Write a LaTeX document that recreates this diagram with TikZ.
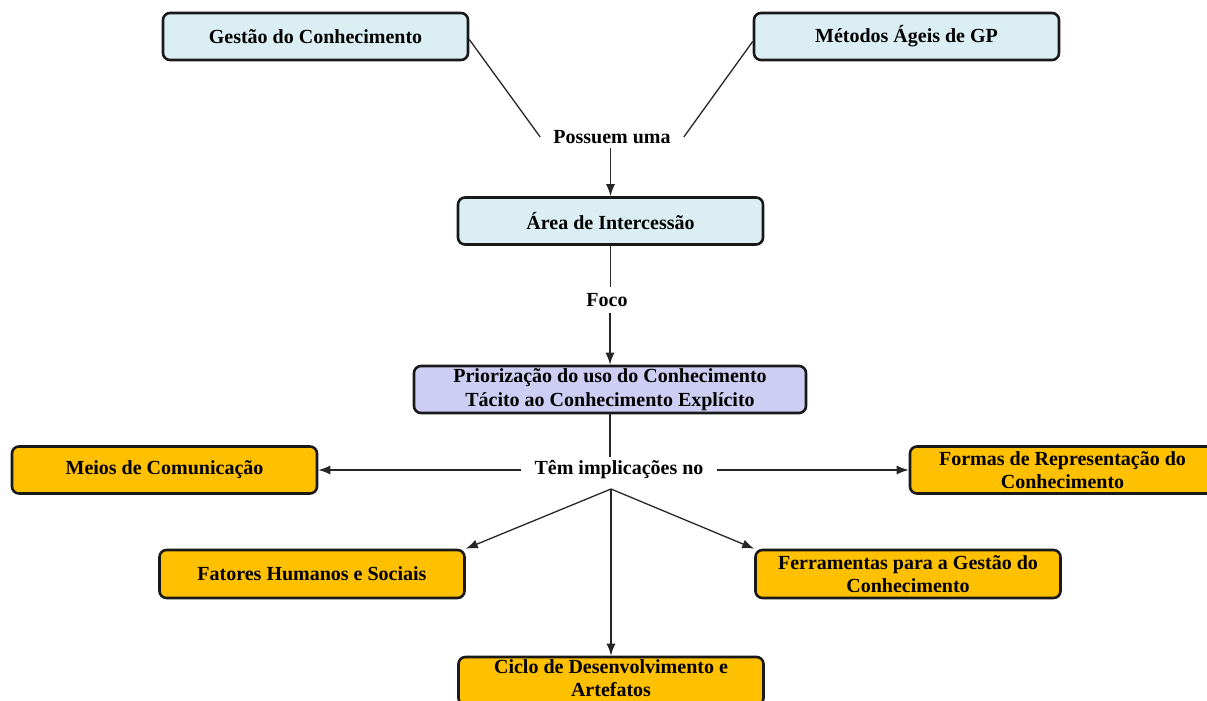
\documentclass[tikz,border=0pt]{standalone}
\usepackage{fontspec}
\setmainfont{Liberation Serif}
\usetikzlibrary{arrows.meta}
\definecolor{paleblue}{RGB}{218,238,243}
\definecolor{lavender}{RGB}{206,206,245}
\definecolor{amber}{RGB}{255,192,0}
\tikzset{
  box/.style={draw=black!90, line width=2.6pt, rounded corners=7pt,
    minimum width=305pt, minimum height=47pt, inner sep=0pt, align=center,
    font=\bfseries\fontsize{20}{23.5}\selectfont},
  bluebox/.style={box, fill=paleblue},
  violetbox/.style={box, fill=lavender},
  orangebox/.style={box, fill=amber},
  linklabel/.style={inner xsep=13pt, inner ysep=4pt,
    font=\bfseries\fontsize{20}{23.5}\selectfont},
  link/.style={line width=1.3pt, draw=black!85},
  arrowlink/.style={link, -{Latex[length=12pt,width=9pt]}}
}
\begin{document}
\begin{tikzpicture}[x=1pt,y=-1pt]
\useasboundingbox (0,0) rectangle (1207,701);
\clip (0,0) rectangle (1207,701);

% top concepts
\node[bluebox] (gestao)  at (315.5,36.5) {Gestão do Conhecimento};
\node[bluebox] (metodos) at (906.5,36.5) {Métodos Ágeis de GP};
\node[linklabel] (possuem) at (612,137) {Possuem uma};

% intersection and focus
\node[bluebox] (area) at (610.5,221) {Área de Intercessão};
\node[linklabel, inner ysep=6pt] (foco) at (607,300) {Foco};
\node[violetbox, minimum width=392pt] (prior) at (610,389.5)
  {Priorização do uso do Conhecimento\\Tácito ao Conhecimento Explícito};

% implications
\node[linklabel] (tem) at (619,470) {Têm implicações no};
\coordinate (hub) at (611,489);
\node[orangebox] (meios)  at (164.5,470) {Meios de Comunicação};
\node[orangebox] (formas) at (1062.5,470) {Formas de Representação do\\Conhecimento};
\node[orangebox, minimum height=48pt] (fatores) at (312,574) {Fatores Humanos e Sociais};
\node[orangebox, minimum height=48pt] (ferram)  at (908,574) {Ferramentas para a Gestão do\\Conhecimento};
\node[orangebox, minimum height=48pt] (ciclo)   at (611,681) {};
\node[font=\bfseries\fontsize{20}{22.5}\selectfont, align=center, inner sep=0pt]
  (cicloText) at (611,678) {Ciclo de Desenvolvimento e\\Artefatos};

% connectors
\draw[link] (gestao.east) ++(0,3) -- (possuem.west);
\draw[link] (metodos.west) ++(0,5) -- (possuem.east);
\draw[arrowlink] (possuem.south -| area.north) -- (area.north);
\draw[link] (area.south) -- (area.south |- foco.north);
\draw[arrowlink] (prior.north |- foco.south) -- (prior.north);
\draw[link] (prior.south) -- (prior.south |- tem.north);
\draw[arrowlink] (tem.west) -- (meios.east);
\draw[arrowlink] (tem.east) -- (formas.west);
\draw[arrowlink] (hub) -- (fatores.north east);
\draw[arrowlink] (hub) -- (ferram.north west);
\draw[arrowlink] (hub) -- (ciclo.north);
\end{tikzpicture}
\end{document}
